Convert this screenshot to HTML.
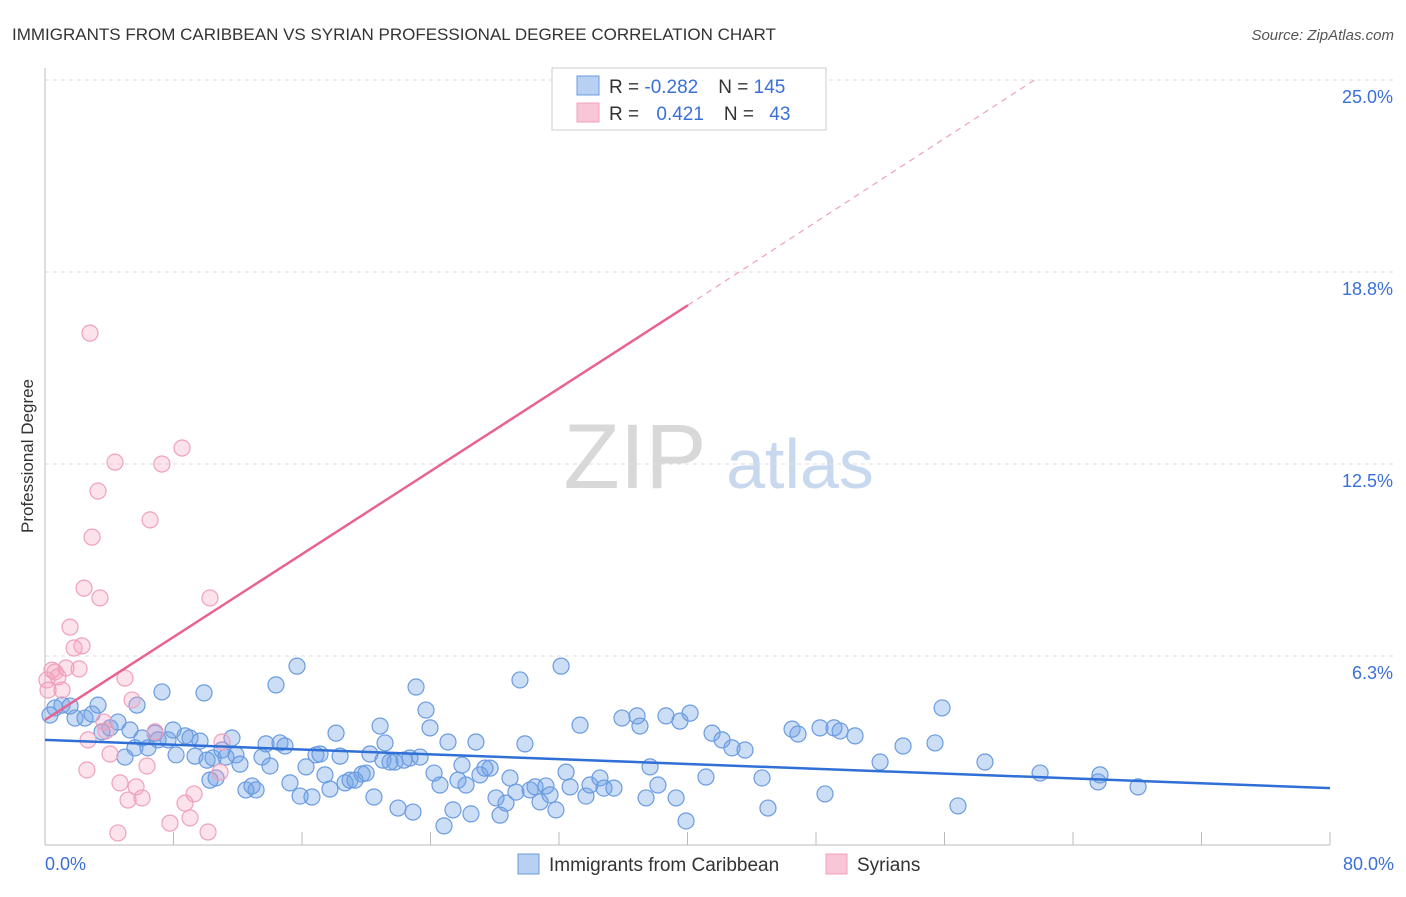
<!DOCTYPE html>
<html><head><meta charset="utf-8"><style>
body{margin:0;background:#fff;font-family:"Liberation Sans",sans-serif;}
svg text{font-family:"Liberation Sans",sans-serif;}
</style></head><body>
<svg id="chart" width="1406" height="892" viewBox="0 0 1406 892" xmlns="http://www.w3.org/2000/svg">
<text x="12" y="40" font-size="17" fill="#333">IMMIGRANTS FROM CARIBBEAN VS SYRIAN PROFESSIONAL DEGREE CORRELATION CHART</text>
<text x="1394" y="40" font-size="15" fill="#555" font-style="italic" text-anchor="end">Source: ZipAtlas.com</text>
<g>
<text x="635" y="488" font-size="92" fill="#d8d8d8" font-family="Liberation Serif" text-anchor="middle">ZIP</text>
<text x="800" y="488" font-size="70" fill="#c8d8ee" text-anchor="middle">atlas</text>
</g>
<g id="grid"></g>
<g id="axes"></g>
<g id="pts"></g>
<g id="lines"></g>
<text transform="translate(33,456) rotate(-90)" font-size="17" fill="#333" text-anchor="middle">Professional Degree</text>
<g>
<rect x="552" y="68" width="274" height="62" fill="#fff" stroke="#ccc"/>
<rect x="577" y="76" width="22" height="19" fill="#b8d0f2" stroke="#6a9be0"/>
<rect x="577" y="103" width="22" height="19" fill="#f8c6d6" stroke="#f0a0bd"/>
<text x="609" y="93" font-size="19" fill="#333">R = <tspan fill="#3a6fd8">-0.282</tspan><tspan dx="20">N = </tspan><tspan fill="#3a6fd8">145</tspan></text>
<text x="609" y="120" font-size="19" fill="#333">R = <tspan fill="#3a6fd8" dx="12">0.421</tspan><tspan dx="20">N = </tspan><tspan fill="#3a6fd8" dx="10">43</tspan></text>
</g>
<g>
<rect x="518" y="854" width="21" height="20" fill="#b8d0f2" stroke="#6a9be0"/>
<text x="549" y="871" font-size="19" fill="#333">Immigrants from Caribbean</text>
<rect x="826" y="854" width="21" height="20" fill="#f8c6d6" stroke="#f0a0bd"/>
<text x="857" y="871" font-size="19" fill="#333">Syrians</text>
</g>
</svg>
<script>
const yTicks=[6.25,12.5,18.75,25];
const yTickLabels=["6.3%","12.5%","18.8%","25.0%"];
const xTickVals=[0,8,16,24,32,40,48,56,64,72,80];
const blueX=[0.31,0.62,1.06,1.56,1.87,2.49,2.93,3.30,3.55,4.05,4.54,4.98,5.29,5.60,5.73,6.04,6.41,6.85,7.04,7.28,7.66,7.97,8.16,8.72,9.03,9.34,9.65,9.90,10.09,10.27,10.46,10.65,11.02,11.27,11.64,11.89,12.14,12.51,12.89,13.14,13.51,13.76,14.01,14.38,14.63,14.94,15.25,15.69,15.88,16.25,16.62,16.87,17.12,17.43,17.74,18.12,18.37,18.68,18.99,19.30,19.74,19.99,20.23,20.48,20.86,21.04,21.17,21.48,21.79,21.98,22.35,22.72,22.91,23.10,23.35,23.72,23.97,24.22,24.59,24.84,25.09,25.40,25.71,25.96,26.21,26.52,26.83,27.08,27.39,27.71,28.08,28.33,28.70,28.95,29.32,29.57,29.88,30.20,30.51,30.82,31.19,31.44,31.81,32.13,32.44,32.69,33.31,33.68,33.93,34.55,34.80,35.42,35.92,36.86,37.04,37.42,37.67,38.16,38.66,39.29,39.53,39.91,40.16,41.15,41.53,42.15,42.77,43.58,44.64,45.01,46.51,46.88,48.25,48.56,49.12,49.50,50.43,51.99,53.42,55.41,55.85,56.84,58.52,61.95,65.56,65.68,68.05];
const blueY=[4.33,4.56,4.65,4.62,4.23,4.23,4.36,4.65,3.78,3.91,4.10,2.96,3.84,3.26,4.65,3.58,3.26,3.74,3.52,5.08,3.52,3.84,3.03,3.65,3.58,2.99,3.48,5.05,2.86,2.21,2.93,2.28,3.19,2.96,3.58,3.03,2.73,1.89,2.02,1.89,2.96,3.39,2.67,5.31,3.42,3.32,2.12,5.92,1.69,2.64,1.66,3.03,3.06,2.38,1.92,3.74,2.99,2.12,2.21,2.21,2.41,2.44,3.06,1.66,3.97,2.86,3.42,2.80,2.80,1.30,2.86,2.93,1.17,5.24,2.96,4.49,3.91,2.44,2.05,0.72,3.45,1.24,2.21,2.70,2.05,1.11,3.45,2.38,2.60,2.60,1.63,1.07,1.46,2.28,1.82,5.47,3.39,1.89,1.99,1.50,2.02,1.73,1.24,5.92,2.47,1.99,4.00,1.69,2.05,2.28,1.95,1.95,4.23,4.30,3.97,1.63,2.64,2.05,4.30,1.63,4.13,0.88,4.39,2.31,3.74,3.52,3.26,3.19,2.28,1.30,3.87,3.71,3.91,1.76,3.91,3.81,3.65,2.80,3.32,3.42,4.56,1.37,2.80,2.44,2.15,2.38,1.99];
const pinkX=[0.19,0.44,0.62,0.81,1.06,1.31,1.56,1.81,2.12,2.30,2.43,2.61,2.80,2.93,3.30,3.42,3.67,3.80,4.05,4.36,4.54,4.67,4.98,5.17,5.42,5.67,6.04,6.35,6.54,6.85,7.28,7.78,8.53,8.72,9.03,9.28,10.15,10.27,10.90,11.02,2.68,0.12];
const pinkY=[5.14,5.79,5.73,5.57,5.14,5.86,7.19,6.51,5.83,6.58,8.46,2.54,16.76,10.12,11.62,8.14,4.10,3.81,3.06,12.56,0.49,2.12,5.53,1.56,4.82,1.99,1.63,2.67,10.68,3.78,12.50,0.81,13.02,1.46,0.98,1.76,0.52,8.14,2.47,3.45,3.52,5.47];
const blueTrendX=[0,80], blueTrendY=[3.52,1.95];
const pinkTrendX=[0,40.03], pinkTrendY=[4.17,17.67];
const pinkDashX=[40.03,61.6], pinkDashY=[17.67,25.0];

const NS="http://www.w3.org/2000/svg";
const X=v=>45+v*(1330-45)/80;
const Y=v=>848-v*192/6.25;
function mk(parent,tag,attrs){const e=document.createElementNS(NS,tag);for(const k in attrs)e.setAttribute(k,attrs[k]);document.getElementById(parent).appendChild(e);return e;}

yTicks.forEach((t,i)=>{
  const l=mk('grid','line',{x1:45,x2:1394,y1:Y(t),y2:Y(t),stroke:'#ddd','stroke-dasharray':'4,4'});
  
  
  const tx=mk('grid','text',{x:1393,y:Y(t)+23,'font-size':18,fill:'#3a6fd8','text-anchor':'end'});
  tx.textContent=yTickLabels[i];
  
  
});
const ax=mk('axes','line',{x1:45,x2:45,y1:68,y2:845,stroke:'#bbb'});


const bx=mk('axes','line',{x1:45,x2:1330,y1:845,y2:845,stroke:'#bbb'});


xTickVals.forEach(v=>{
  const t=mk('axes','line',{x1:X(v),x2:X(v),y1:832,y2:845,stroke:'#bbb'});
  
  
});
const xl0=mk('axes','text',{x:45,y:870,'font-size':18,fill:'#3a6fd8'});xl0.textContent='0.0%';


const xl1=mk('axes','text',{x:1394,y:870,'font-size':18,fill:'#3a6fd8','text-anchor':'end'});xl1.textContent='80.0%';



blueX.forEach((v,i)=>{
  const c=mk('pts','circle',{cx:X(v),cy:Y(blueY[i]),r:8,fill:'rgba(110,160,230,0.35)',stroke:'#6a9be0','stroke-width':1.2});
  
  
});
pinkX.forEach((v,i)=>{
  const c=mk('pts','circle',{cx:X(v),cy:Y(pinkY[i]),r:8,fill:'rgba(245,160,190,0.3)',stroke:'#f0a0bd','stroke-width':1.2});
  
  
});
const b=mk('lines','line',{x1:X(blueTrendX[0]),y1:Y(blueTrendY[0]),x2:X(blueTrendX[1]),y2:Y(blueTrendY[1]),stroke:'#2f6fd6','stroke-width':2.5});


const p=mk('lines','line',{x1:X(pinkTrendX[0]),y1:Y(pinkTrendY[0]),x2:X(pinkTrendX[1]),y2:Y(pinkTrendY[1]),stroke:'#e8638f','stroke-width':2.5});


const pd=mk('lines','line',{x1:X(pinkDashX[0]),y1:Y(pinkDashY[0]),x2:X(pinkDashX[1]),y2:Y(pinkDashY[1]),stroke:'#f0a0bd','stroke-width':1.2,'stroke-dasharray':'6,5'});


</script>
</body></html>
